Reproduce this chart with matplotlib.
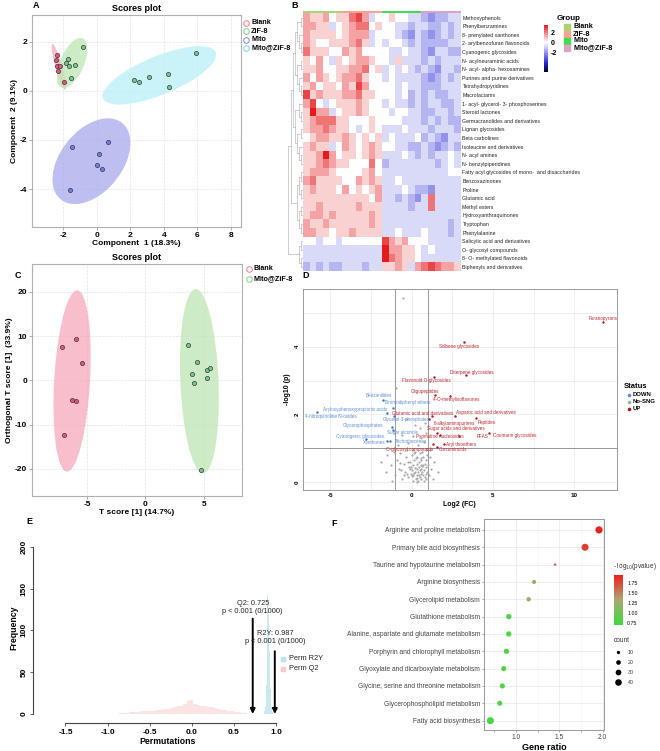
import numpy as np
import matplotlib.pyplot as plt
from matplotlib.patches import Ellipse, Rectangle
from matplotlib.colors import LinearSegmentedColormap, ListedColormap, Normalize
from matplotlib.cm import ScalarMappable

plt.rcParams['font.family'] = ['Liberation Sans', 'DejaVu Sans']
plt.rcParams['axes.unicode_minus'] = False

W, H = 660, 751

# ── Datos panel A (PLS-DA) ────────────────────────────────────────────────────
a_blank_x = [-2.38, -2.40, -2.34, -2.30, -2.18, -1.94]
a_blank_y = [1.46, 1.25, 1.01, 0.82, 1.03, 0.35]
a_zif_x = [-1.70, -1.84, -1.62, -1.27, -0.81, -1.52]
a_zif_y = [1.32, 1.14, 1.02, 1.06, 1.80, 0.52]
a_mito_x = [-1.45, 0.65, 0.16, 0.04, 0.30, -1.56]
a_mito_y = [-2.27, -2.10, -2.57, -3.03, -3.17, -4.05]
a_mz_x = [2.24, 2.53, 3.13, 4.26, 4.34, 5.94]
a_mz_y = [0.45, 0.37, 0.59, 0.71, 0.15, 1.55]

# ── Datos panel C (OPLS-DA) ───────────────────────────────────────────────────
c_blank_x = [-5.91, -7.11, -5.45, -6.27, -5.93, -6.97]
c_blank_y = [9.3, 7.45, 3.9, -4.5, -4.6, -12.3]
c_mz_x = [3.63, 4.40, 3.95, 4.17, 5.23, 5.49, 5.26, 4.74]
c_mz_y = [7.97, 4.2, 1.43, -0.53, 2.41, 2.87, 0.6, -20.2]

# ── Datos panel B (heatmap) ───────────────────────────────────────────────────
b_filas = ['Methoxyphenols', 'Phenylbenzamines', '8- prenylated xanthones',
           '2- arylbenzofuran flavonoids', 'Cyanogenic glycosides',
           'N- acylneuraminic acids', 'N- acyl- alpha- hexosamines',
           'Purines and purine derivatives', 'Tetrahydropyridines', 'Macrolactams',
           '1- acyl- glycerol- 3- phosphoserines', 'Steroid lactones',
           'Germacranolides and derivatives', 'Lignan glycosides', 'Beta carbolines',
           'Isoleucine and derivatives', 'N- acyl amines', 'N- benzylpiperidines',
           'Fatty acyl glycosides of mono-  and disaccharides', 'Benzoxazinones',
           'Proline', 'Glutamic acid', 'Methyl esters', 'Hydroxyanthraquinones',
           'Tryptophan', 'Phenylalanine', 'Salicylic acid and derivatives',
           'O- glycosyl compounds', '8- O- methylated flavonoids',
           'Biphenyls and derivatives']
# niveles: 0 = azul intenso, 4 = blanco, 9 = rojo intenso
b_niveles = [
    "655645 578634 454433 212233",
    "665534 567745 443323 322323",
    "655554 566634 443213 212323",
    "654455 567534 344323 222233",
    "755544 656444 433433 213322",
    "546435 456654 435333 232333",
    "556445 566745 343432 321332",
    "646545 667544 343333 212323",
    "564554 658644 443433 222333",
    "856555 667554 443423 232233",
    "684345 556544 343323 233223",
    "596634 556544 434433 223323",
    "567775 544454 444333 232322",
    "566765 543454 333433 323332",
    "456655 654545 343334 232133",
    "565534 654565 443322 321232",
    "556964 554565 333432 323343",
    "556765 544474 233333 332343",
    "566654 444564 333333 333344",
    "675555 446565 334333 333333",
    "565554 645456 333432 213333",
    "555555 555546 332321 373333",
    "556555 556555 333323 373333",
    "566565 555565 333333 333333",
    "655655 555565 333333 333323",
    "665545 565555 334333 433323",
    "443443 444444 865644 433333",
    "333333 333333 966554 343333",
    "333333 333333 976554 333333",
    "232322 333233 556536 787665",
]
b_grupos = ['Blank', 'ZiF-8', 'Mito', 'Mito@ZiF-8']
b_arbol = [[[[[[0, 1], [2, [3, 4]]], [[5, 6], [7, [8, 9]]]],
             [[10, [11, 12]], [[13, 14], [15, [16, 17]]]]],
            [[[18, 19], [20, 21]], [[22, 23], [24, 25]]]],
           [[26, 27], [28, 29]]]

# ── Datos panel D (volcano) ───────────────────────────────────────────────────
d_up_nombres = ['Furanopyrans', 'Stilbene glycosides', 'Diterpene glycosides',
                'Flavonoid O-glycosides', 'Oligopeptides', "4'-O-methylisoflavones",
                'Glutamic acid and derivatives', 'Aspartic acid and derivatives',
                'Peptides', '6-alkylaminopurines', 'Sugar acids and derivatives',
                'Pyrimidine nucleosides', 'PFAS', 'Coumarin glycosides',
                'Aryl thioethers', 'O-glycosyl compounds', 'Curcuminoids']
d_up_x = [11.76, 3.23, 3.34, 1.37, 1.43, 2.33, 1.25, 2.66, 3.95, 1.05, 1.57,
          1.72, 2.93, 4.77, 1.98, 1.33, 1.54]
d_up_y = [4.74, 4.13, 3.16, 3.11, 2.58, 2.55, 1.95, 1.96, 1.89, 1.86, 1.46,
          1.40, 1.37, 1.46, 1.12, 1.12, 1.04]
d_down_nombres = ['Benzanilides', 'Bromodiphenyl ethers',
                  'Aryloxyphenoxypropionic acids', '4-nitroquinoline N-oxides',
                  'Glycerol-3-phosphates', 'Glycerophosphates', 'Sugar alcohols',
                  'Cyanogenic glycosides', 'Xanthones', 'Trichothecenes']
d_down_x = [-1.74, -1.17, -1.50, -5.82, -1.07, -1.23, -1.12, -2.83, -1.50, -1.33]
d_down_y = [2.43, 2.20, 2.03, 2.07, 1.96, 1.64, 1.54, 1.27, 1.22, 1.22]
d_ns_x = [-0.55, -0.97, -0.30, 0.20, 0.50, 0.80, -0.60, 0.10, 0.60, 0.90, -0.20,
          0.40, 0.75, -0.85, -1.90, -1.60, -1.50, -1.30, -1.10, -1.00, -0.90,
          -0.80, -0.70, -0.60, -0.50, -0.40, -0.35, -0.30, -0.20, -0.15, -0.10,
          0.00, 0.00, 0.05, 0.10, 0.10, 0.15, 0.20, 0.20, 0.25, 0.30, 0.30, 0.35,
          0.35, 0.40, 0.40, 0.45, 0.45, 0.50, 0.50, 0.50, 0.55, 0.55, 0.60, 0.60,
          0.60, 0.65, 0.70, 0.70, 0.70, 0.75, 0.75, 0.80, 0.80, 0.85, 0.85, 0.90,
          0.90, 0.95, 1.00, 1.05, 1.10, 1.20, 1.30, 1.40, 1.60, 0.25, 0.15, 0.65,
          -0.05, 0.30, 0.55, 0.95, -0.25, 0.05, 0.85, 1.10, -1.20, -0.45, -0.65,
          -0.05, 0.15, 0.35, -0.30, 0.45, 0.20, -0.10, 0.00, 0.65, -0.75]
d_ns_y = [5.43, 2.79, 1.85, 1.70, 1.60, 1.75, 1.40, 1.35, 1.30, 1.45, 1.15,
          1.10, 1.20, 1.10, 0.60, 0.30, 0.80, 0.50, 0.90, 0.20, 0.65, 0.40, 0.85,
          0.10, 0.55, 0.30, 0.75, 0.95, 0.15, 0.45, 0.60, 0.35, 0.80, 0.05, 0.20,
          0.50, 0.65, 0.30, 0.90, 0.10, 0.40, 0.55, 0.20, 0.75, 0.05, 0.30, 0.45,
          0.60, 0.15, 0.35, 0.85, 0.25, 0.50, 0.10, 0.40, 0.65, 0.30, 0.20, 0.50,
          0.75, 0.05, 0.35, 0.15, 0.55, 0.25, 0.45, 0.10, 0.65, 0.30, 0.50, 0.20,
          0.75, 0.40, 0.10, 0.60, 0.30, 0.70, 0.85, 0.90, 0.25, 0.00, 0.70, 0.80,
          0.60, 0.95, 0.95, 0.95, 0.05, 0.20, 0.35, 0.45, 0.28, 0.12, 0.25, 0.22,
          0.42, 0.38, 0.18, 0.48, 0.58]

# ── Datos panel E (permutaciones) ─────────────────────────────────────────────
e_q2_inicio = -0.86
e_q2_ancho = 0.04
e_q2_cuentas = [1, 1, 1, 2, 2, 2, 3, 3, 3, 4, 4, 5, 5, 6, 6, 7, 8, 9, 10, 12,
                15, 17, 12, 11, 10, 9, 8, 8, 7, 6, 5, 5, 4, 3, 2, 2, 1, 1]
e_r2y_inicio = 0.86
e_r2y_ancho = 0.01
e_r2y_cuentas = [3, 10, 35, 80, 142, 120, 75, 30, 8, 2]
e_q2 = 0.725
e_r2y = 0.987

# ── Datos panel F (enriquecimiento) ───────────────────────────────────────────
f_vias = ['Arginine and proline metabolism', 'Primary bile acid biosynthesis',
          'Taurine and hypotaurine metabolism', 'Arginine biosynthesis',
          'Glycerolipid metabolism', 'Glutathione metabolism',
          'Alanine, aspartate and glutamate metabolism',
          'Porphyrin and chlorophyll metabolism',
          'Glyoxylate and dicarboxylate metabolism',
          'Glycine, serine and threonine metabolism',
          'Glycerophospholipid metabolism', 'Fatty acid biosynthesis']
f_ratio = [1.957, 1.796, 1.45, 1.208, 1.146, 0.916, 0.916, 0.889, 0.858, 0.842,
           0.812, 0.704]
f_logp = [1.92, 1.80, 1.62, 1.20, 1.32, 0.78, 0.78, 0.80, 0.78, 0.77, 0.80, 0.74]
f_cuenta = [48, 46, 6, 16, 18, 26, 26, 26, 24, 24, 24, 46]
f_cuenta_leyenda = [10, 20, 30, 40]


# ── Utilidades ────────────────────────────────────────────────────────────────
def caja(l, t, r, b):
    """Rectangulo en pixeles de la figura -> coordenadas de add_axes."""
    return [l / W, 1 - b / H, (r - l) / W, (b - t) / H]


def elipse95(ax, x, y, color):
    x = np.asarray(x)
    y = np.asarray(y)
    vals, vecs = np.linalg.eigh(np.cov(x, y))
    k = np.sqrt(5.991)
    ang = np.degrees(np.arctan2(vecs[1, 1], vecs[0, 1]))
    ax.add_patch(Ellipse((x.mean(), y.mean()), 2 * k * np.sqrt(vals[1]),
                         2 * k * np.sqrt(vals[0]), angle=ang, facecolor=color,
                         edgecolor='none', alpha=0.75, zorder=1))


def estilo_scores(ax):
    for s in ax.spines.values():
        s.set_color('#B0B0B0')
        s.set_linewidth(0.8)
    ax.grid(True, color='#E4E4E4', lw=0.5, ls='--')
    ax.set_axisbelow(True)
    ax.tick_params(length=2, width=0.5, color='#888888', labelsize=6, pad=1.5)
    for t in ax.get_xticklabels() + ax.get_yticklabels():
        t.set_fontweight('bold')


fig = plt.figure(figsize=(W / 100, H / 100), dpi=100)
lienzo = fig.add_axes([0, 0, 1, 1], zorder=10)
lienzo.set_xlim(0, W)
lienzo.set_ylim(H, 0)
lienzo.axis('off')

# ── Panel A ───────────────────────────────────────────────────────────────────
ax = fig.add_axes(caja(32, 15, 241, 227))
relleno = ['#F7A8BA', '#BDE6B4', '#A6AAEA', '#B8F0F6']
puntos = ['#EE5566', '#77CC77', '#7A7FDD', '#77CC77']
contorno = ['#F08898', '#8FD68F', '#8F92E6', '#8FD6E6']
series_a = [(a_blank_x, a_blank_y), (a_zif_x, a_zif_y), (a_mito_x, a_mito_y),
            (a_mz_x, a_mz_y)]
for (xs, ys), cf, cp in zip(series_a, relleno, puntos):
    elipse95(ax, xs, ys, cf)
    ax.scatter(xs, ys, s=9, color=cp, edgecolor='#333355', lw=0.5, zorder=3)
ax.set_xlim(-3.85, 8.6)
ax.set_ylim(-5.55, 3.1)
ax.set_xticks([-2, 0, 2, 4, 6, 8])
ax.set_yticks([-4, -2, 0, 2])
estilo_scores(ax)
ax.set_title('Scores plot', fontsize=6.5, fontweight='bold', pad=3)
ax.set_xlabel('Component  1 (18.3%)', fontsize=6, fontweight='bold', labelpad=1)
ax.set_ylabel('Component  2 (9.1%)', fontsize=6, fontweight='bold', labelpad=1)
for i, (g, c) in enumerate(zip(b_grupos, contorno)):
    yy = 23 + i * 8.3
    lienzo.plot(246, yy, 'o', ms=4, mfc='none', mec=c, mew=0.8)
    lienzo.text(251, yy, g, fontsize=5.2, fontweight='bold', va='center')
lienzo.text(33, 6, 'A', fontsize=6.5, fontweight='bold', va='center')

# ── Panel C ───────────────────────────────────────────────────────────────────
ax = fig.add_axes(caja(32, 264, 242, 496))
for (xs, ys), cf, cp in zip([(c_blank_x, c_blank_y), (c_mz_x, c_mz_y)],
                            ['#F7A8BA', '#BDE6B4'], ['#EE5566', '#77CC77']):
    elipse95(ax, xs, ys, cf)
    ax.scatter(xs, ys, s=9, color=cp, edgecolor='#333355', lw=0.5, zorder=3)
ax.set_xlim(-9.7, 8.25)
ax.set_ylim(-26.1, 26.3)
ax.set_xticks([-5, 0, 5])
ax.set_yticks([-20, -10, 0, 10, 20])
estilo_scores(ax)
ax.set_title('Scores plot', fontsize=6.5, fontweight='bold', pad=3)
ax.set_xlabel('T score [1] (14.7%)', fontsize=6, fontweight='bold', labelpad=1)
ax.set_ylabel('Orthogonal T score [1]  (33.9%)', fontsize=6, fontweight='bold',
              labelpad=1)
for i, (g, c) in enumerate(zip(['Blank', 'Mito@ZiF-8'], ['#F08898', '#8FD68F'])):
    yy = 269 + i * 10
    lienzo.plot(249, yy, 'o', ms=4, mfc='none', mec=c, mew=0.8)
    lienzo.text(254, yy, g, fontsize=5.2, fontweight='bold', va='center')
lienzo.text(15, 275, 'C', fontsize=6.5, fontweight='bold', va='center')

# ── Panel B ───────────────────────────────────────────────────────────────────
matriz = np.array([[(int(d) - 4) * 0.7 for d in fila.replace(' ', '')]
                   for fila in b_niveles])
cmap_calor = LinearSegmentedColormap.from_list(
    'calor', [(0, '#000022'), (0.2, '#2A2AD8'), (0.632, '#FFFFFF'), (1, '#E41A1C')])
norma = Normalize(-6, 3.5)
ax = fig.add_axes(caja(303, 13.4, 461, 271.3))
ax.imshow(matriz, cmap=cmap_calor, norm=norma, aspect='auto',
          extent=(0, 24, 30, 0), interpolation='nearest')
ax.set_xticks([])
ax.yaxis.tick_right()
ax.set_yticks(np.arange(30) + 0.5)
ax.set_yticklabels(b_filas, fontsize=3.8, color='#222222')
ax.tick_params(length=0, pad=1)
for s in ax.spines.values():
    s.set_visible(False)

colores_grupo = ['#A9D46F', '#F7A38F', '#46DB55', '#DDA3C4']
axg = fig.add_axes(caja(303, 11, 461, 13.4))
axg.imshow(np.repeat(np.arange(4), 6)[None, :], cmap=ListedColormap(colores_grupo),
           aspect='auto', extent=(0, 24, 1, 0), interpolation='nearest')
axg.axis('off')


def rama(axd, nodo):
    if isinstance(nodo, int):
        return nodo + 0.5, 0
    hijos = [rama(axd, n) for n in nodo]
    h = max(hh for _, hh in hijos) + 1
    ys = [yy for yy, _ in hijos]
    for yy, hh in hijos:
        axd.plot([hh, h], [yy, yy], color='#AAAAAA', lw=0.4)
    axd.plot([h, h], [min(ys), max(ys)], color='#AAAAAA', lw=0.4)
    return np.mean(ys), h


axd = fig.add_axes(caja(288, 13.4, 303, 271.3))
_, altura = rama(axd, b_arbol)
axd.set_xlim(altura + 0.2, 0)
axd.set_ylim(30, 0)
axd.axis('off')

axc = fig.add_axes(caja(544, 25, 548, 72))
cb = fig.colorbar(ScalarMappable(norm=norma, cmap=cmap_calor), cax=axc)
cb.outline.set_visible(False)
cb.set_ticks([2, 0, -2])
axc.tick_params(length=0, labelsize=5, pad=2)
for t in axc.get_yticklabels():
    t.set_fontweight('bold')
lienzo.text(557, 18, 'Group', fontsize=5.8, fontweight='bold', va='center')
for i, (g, c) in enumerate(zip(b_grupos, colores_grupo)):
    yy = 27 + i * 7
    lienzo.add_patch(Rectangle((564, yy - 3), 6, 6, color=c))
    lienzo.text(573, yy, g, fontsize=5.2, fontweight='bold', va='center')
lienzo.text(291, 6, 'B', fontsize=6.5, fontweight='bold', va='center')

# ── Panel D ───────────────────────────────────────────────────────────────────
ax = fig.add_axes(caja(302.7, 289, 616.7, 490))
ax.set_xlim(-6.7, 12.6)
ax.set_ylim(-0.23, 5.7)
ax.set_xticks([-5, 0, 5, 10])
ax.set_xticks([-2.5, 2.5, 7.5], minor=True)
ax.set_yticks([0, 2, 4])
ax.set_yticks([1, 3, 5], minor=True)
ax.grid(True, which='both', color='#E8E8E8', lw=0.5)
ax.set_axisbelow(True)
for s in ax.spines.values():
    s.set_color('#999999')
    s.set_linewidth(0.7)
ax.tick_params(which='both', length=0, labelsize=4.5, pad=2)
ax.tick_params(axis='y', labelrotation=90)
for t in ax.get_xticklabels() + ax.get_yticklabels():
    t.set_fontweight('bold')
ax.axvline(-1, color='#888888', lw=0.6)
ax.axvline(1, color='#888888', lw=0.6)
ax.axhline(1, color='#888888', lw=0.6)
ax.scatter(d_ns_x, d_ns_y, s=2.5, color='#A8A8A8', lw=0, zorder=2)
ax.scatter(d_up_x, d_up_y, s=3, color='#B0141C', lw=0, zorder=3)
ax.scatter(d_down_x, d_down_y, s=3, color='#3D74B8', lw=0, zorder=3)
desp_up = [(0, 3), (-5, -4), (6, 3), (-8, -4), (-10, 3), (7, -4), (-9, 3),
           (31, 3), (11, -4), (26, -4), (19, 4), (0, -2), (23, -1), (25, -3),
           (17, 0), (-24, -5), (16, -3)]
desp_down = [(-5, 4), (15, 5), (-32, 4), (14, -4), (12, -4), (-29, 1), (9, -2),
             (-6, 3), (-13, -2), (21, -1)]
for nombres, xs, ys, desp, col in [
        (d_up_nombres, d_up_x, d_up_y, desp_up, '#C0262D'),
        (d_down_nombres, d_down_x, d_down_y, desp_down, '#5B8FD9')]:
    for n, xx, yy, (dx, dy) in zip(nombres, xs, ys, desp):
        ax.annotate(n, (xx, yy), xytext=(dx * 0.72, dy * 0.72),
                    textcoords='offset points', fontsize=3.3, color=col,
                    ha='center', va='center')
ax.set_xlabel('Log2 (FC)', fontsize=5, fontweight='bold', labelpad=2)
ax.set_ylabel('-log10 (p)', fontsize=5, fontweight='bold', labelpad=3)
lienzo.text(624, 386, 'Status', fontsize=5.5, fontweight='bold', va='center')
for i, (g, c) in enumerate(zip(['DOWN', 'No-SNG', 'UP'],
                               ['#5B8FD9', '#A8A8A8', '#B0141C'])):
    yy = 395 + i * 6.8
    lienzo.plot(629, yy, 'o', ms=1.6, color=c)
    lienzo.text(633, yy, g, fontsize=4.3, fontweight='bold', va='center')
lienzo.text(302, 276, 'D', fontsize=6.5, fontweight='bold', va='center')

# ── Panel E ───────────────────────────────────────────────────────────────────
ax = fig.add_axes(caja(40, 540, 296, 716))
centros_q2 = e_q2_inicio + e_q2_ancho * (np.arange(len(e_q2_cuentas)) + 0.5)
centros_r2y = e_r2y_inicio + e_r2y_ancho * (np.arange(len(e_r2y_cuentas)) + 0.5)
ax.bar(centros_q2, e_q2_cuentas, width=e_q2_ancho, color='#F9C9C9', alpha=0.5,
       lw=0)
ax.bar(centros_r2y, e_r2y_cuentas, width=e_r2y_ancho, color='#BFE3EE', alpha=0.8,
       lw=0)
ax.set_xlim(-1.802, 1.239)
ax.set_ylim(-2.4, 208)
for s in ['top', 'right']:
    ax.spines[s].set_visible(False)
ax.spines['left'].set_position(('outward', 4.8))
ax.spines['bottom'].set_position(('outward', 5.3))
ax.spines['left'].set_bounds(0, 200)
ax.spines['bottom'].set_bounds(-1.5, 1.0)
for s in ['left', 'bottom']:
    ax.spines[s].set_linewidth(0.8)
    ax.spines[s].set_color('#444444')
ax.set_yticks([0, 50, 100, 150, 200])
ax.set_xticks([-1.5, -1.0, -0.5, 0.0, 0.5, 1.0])
ax.set_xticklabels(['-1.5', '-1.0', '-0.5', '0.0', '0.5', '1.0'])
ax.tick_params(length=2.5, width=0.6, labelsize=6, pad=1.5, color='#444444')
ax.tick_params(axis='y', labelrotation=90)
for t in ax.get_xticklabels():
    t.set_fontweight('bold')
for t in ax.get_yticklabels():
    t.set_fontweight('bold')
    t.set_verticalalignment('center')
ax.set_xlabel('Permutations', fontsize=6.3, fontweight='bold', labelpad=1)
ax.set_ylabel('Frequency', fontsize=6.3, fontweight='bold', labelpad=2)
for valor, alto, nombre, yt in [(e_q2, 114, 'Q2', 127), (e_r2y, 75, 'R2Y', 91)]:
    ax.annotate('', xy=(valor, 0), xytext=(valor, alto),
                arrowprops=dict(arrowstyle='-|>', lw=1.4, color='black',
                                mutation_scale=7, shrinkA=0, shrinkB=0))
    ax.text(valor, yt, f'{nombre}: {valor}\np < 0.001 (0/1000)', fontsize=5.3,
            ha='center', va='center', linespacing=1.15, color='#222222')
for i, (g, c) in enumerate(zip(['Perm R2Y', 'Perm Q2'], ['#BFE3EE', '#F9C9C9'])):
    yy = 659 + i * 10
    lienzo.plot(283, yy, 's', ms=2.5, color=c)
    lienzo.text(289, yy, g, fontsize=5.3, va='center', color='#222222')
lienzo.text(26, 521, 'E', fontsize=6.5, fontweight='bold', va='center')

# ── Panel F ───────────────────────────────────────────────────────────────────
ax = fig.add_axes(caja(484.3, 519, 604.3, 730))
cmap_p = LinearSegmentedColormap.from_list(
    'pval', [(0, '#3CDC3C'), (0.5, '#A8A870'), (1, '#F01E1E')])
norma_p = Normalize(0.69, 1.94)
pos_y = np.arange(len(f_vias))[::-1] + 1
ax.scatter(f_ratio, pos_y, s=np.array(f_cuenta) * 0.56, c=f_logp, cmap=cmap_p,
           norm=norma_p, lw=0, zorder=3)
ax.set_xlim(0.634, 2.018)
ax.set_ylim(0.46, 12.63)
ax.set_yticks(pos_y)
ax.set_yticklabels(f_vias, fontsize=4.8, color='#444444')
ax.set_xticks([1.0, 1.5, 2.0])
ax.set_xticks([0.75, 1.25, 1.75], minor=True)
ax.grid(True, which='major', color='#EBEBEB', lw=0.6)
ax.grid(True, which='minor', axis='x', color='#F3F3F3', lw=0.4)
ax.set_axisbelow(True)
for s in ax.spines.values():
    s.set_color('#999999')
    s.set_linewidth(0.7)
ax.tick_params(which='both', length=1.5, width=0.4, color='#666666', pad=1.5)
ax.tick_params(axis='x', labelsize=4.8, labelcolor='#444444')
ax.set_xlabel('Gene ratio', fontsize=6.5, fontweight='bold', labelpad=1)

axc = fig.add_axes(caja(614, 575, 623, 625))
cb = fig.colorbar(ScalarMappable(norm=norma_p, cmap=cmap_p), cax=axc)
cb.outline.set_visible(False)
cb.set_ticks([0.75, 1.0, 1.25, 1.5, 1.75])
cb.set_ticklabels(['0.75', '1.00', '1.25', '1.50', '1.75'])
axc.tick_params(length=1.5, width=0.4, color='white', labelsize=3.8, pad=1.5)
lienzo.text(613, 567, '- log$_{10}$(pvalue)', fontsize=4.7, va='center',
            color='#333333')
lienzo.text(614, 641, 'count', fontsize=4.7, va='center', color='#333333')
for i, n in enumerate(f_cuenta_leyenda):
    yy = 652.3 + i * 10
    lienzo.scatter(618.3, yy, s=n * 0.56, color='black', lw=0)
    lienzo.text(628, yy, str(n), fontsize=3.8, va='center', color='#333333')
lienzo.text(331, 524, 'F', fontsize=6.5, fontweight='bold', va='center')

fig.savefig('out.png', dpi=100, facecolor='white')
